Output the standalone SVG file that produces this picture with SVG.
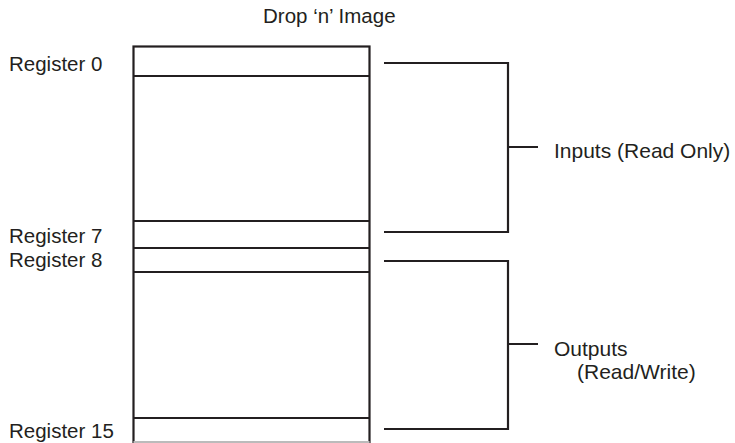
<svg xmlns="http://www.w3.org/2000/svg" width="735" height="443" viewBox="0 0 735 443">
<style>
text{font-family:"Liberation Sans",Arial,sans-serif;font-size:20.5px;fill:#231f20}
.big{font-size:21px}
.ln{stroke:#231f20;stroke-width:2.2;fill:none}
</style>
<rect width="735" height="443" fill="#fff"/>
<text x="263" y="23">Drop ‘n’ Image</text>
<g id="image-box">
<rect class="ln" x="133.5" y="46.5" width="236" height="396"/>
<line x1="133.5" y1="442" x2="369.5" y2="442" stroke="#bbb" stroke-width="2"/>
<line class="ln" x1="133.5" y1="76" x2="369.5" y2="76"/>
<line class="ln" x1="133.5" y1="221" x2="369.5" y2="221"/>
<line class="ln" x1="133.5" y1="248" x2="369.5" y2="248"/>
<line class="ln" x1="133.5" y1="272" x2="369.5" y2="272"/>
<line class="ln" x1="133.5" y1="418" x2="369.5" y2="418"/>
</g>
<g id="labels">
<text x="9" y="71">Register 0</text>
<text x="9" y="242.5">Register 7</text>
<text x="9" y="266.5">Register 8</text>
<text x="9" y="438">Register 15</text>
</g>
<g id="connectors">
<path class="ln" d="M384 63H508V232H384M508 147H538"/>
<path class="ln" d="M384 261H508V429H384M508 344H538"/>
</g>
<g id="inputs">
<text class="big" x="554" y="158">Inputs (Read Only)</text>
</g>
<g id="outputs">
<text class="big" x="554" y="356">Outputs</text>
<text class="big" x="577" y="379">(Read/Write)</text>
</g>
</svg>
